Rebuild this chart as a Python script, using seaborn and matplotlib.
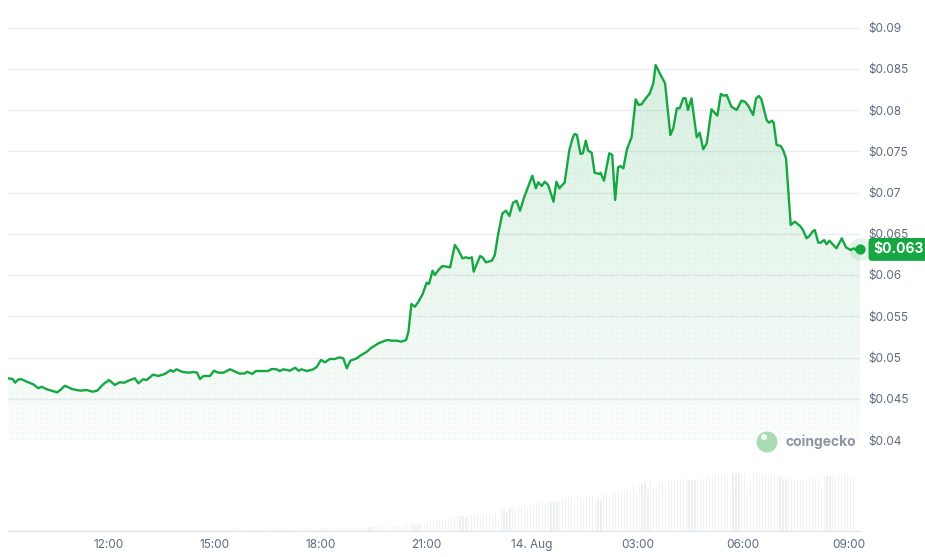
import numpy as np
import pandas as pd
import matplotlib
matplotlib.use("Agg")
import matplotlib.pyplot as plt
import matplotlib.dates as mdates
from matplotlib.patches import Circle
import seaborn as sns

# ---------------- data ----------------
times_13 = ["09:08", "09:16", "09:20", "09:26", "09:31", "09:40", "09:51", "10:00", "10:05", "10:14",
            "10:28", "10:32", "10:37", "10:45", "10:57", "11:11", "11:22", "11:32", "11:40", "11:50",
            "12:00", "12:10", "12:18", "12:26", "12:33", "12:44", "12:50", "12:58", "13:04", "13:15",
            "13:24", "13:35", "13:45", "13:49", "13:55", "14:04", "14:15", "14:24", "14:30", "14:35",
            "14:41", "14:52", "14:59", "15:06", "15:15", "15:26", "15:35", "15:43", "15:52", "15:55",
            "16:04", "16:10", "16:23", "16:31", "16:37", "16:45", "16:51", "16:57", "17:08", "17:17",
            "17:23", "17:28", "17:37", "17:48", "17:54", "18:01", "18:08", "18:16", "18:25", "18:32",
            "18:39", "18:45", "18:51", "19:02", "19:07", "19:19", "19:27", "19:39", "19:50", "19:55",
            "20:01", "20:10", "20:18", "20:26", "20:30", "20:35", "20:41", "20:47", "20:54", "21:01",
            "21:05", "21:11", "21:15", "21:21", "21:28", "21:35", "21:41", "21:49", "21:55", "22:02",
            "22:08", "22:13", "22:18", "22:21", "22:32", "22:36", "22:42", "22:52", "22:57", "23:03",
            "23:10", "23:16", "23:22", "23:28", "23:34", "23:40", "23:47"]
prices_13 = [0.04748, 0.04739, 0.04695, 0.04736, 0.04736, 0.04707, 0.04675, 0.04627, 0.04646, 0.04615,
             0.04585, 0.04578, 0.04606, 0.04658, 0.04618, 0.04598, 0.04606, 0.04585, 0.04598, 0.04675,
             0.04727, 0.04667, 0.04699, 0.04695, 0.04719, 0.04748, 0.04687, 0.04736, 0.04727, 0.04792,
             0.04776, 0.04800, 0.04848, 0.04828, 0.04857, 0.04828, 0.04816, 0.04824, 0.04816, 0.04739,
             0.04776, 0.04776, 0.04840, 0.04816, 0.04816, 0.04857, 0.04828, 0.04804, 0.04808, 0.04828,
             0.04800, 0.04836, 0.04836, 0.04836, 0.04861, 0.04857, 0.04836, 0.04857, 0.04840, 0.04876,
             0.04840, 0.04857, 0.04836, 0.04857, 0.04888, 0.04970, 0.04942, 0.04982, 0.04982, 0.05002,
             0.04990, 0.04869, 0.04961, 0.04990, 0.05018, 0.05070, 0.05119, 0.05172, 0.05204, 0.05212,
             0.05204, 0.05204, 0.05192, 0.05212, 0.05313, 0.05648, 0.05616, 0.05676, 0.05766, 0.05907,
             0.05891, 0.06052, 0.06000, 0.06061, 0.06109, 0.06101, 0.06093, 0.06364, 0.06303, 0.06202,
             0.06215, 0.06202, 0.06215, 0.06040, 0.06230, 0.06215, 0.06154, 0.06173, 0.06242, 0.06505,
             0.06748, 0.06779, 0.06715, 0.06876, 0.06901, 0.06779, 0.06942]

times_14 = ["00:01", "00:07", "00:11", "00:17", "00:22", "00:28", "00:37", "00:42", "00:47", "00:56",
            "01:04", "01:10", "01:13", "01:17", "01:23", "01:27", "01:32", "01:36", "01:42", "01:47",
            "01:55", "01:57", "02:03", "02:12", "02:17", "02:22", "02:27", "02:31", "02:36", "02:42",
            "02:50", "02:57", "03:02", "03:07", "03:13", "03:21", "03:27", "03:31", "03:38", "03:47",
            "03:56", "04:01", "04:07", "04:12", "04:18", "04:22", "04:26", "04:32", "04:41", "04:46",
            "04:52", "04:58", "05:06", "05:16", "05:22", "05:27", "05:32", "05:40", "05:49", "05:57",
            "06:03", "06:09", "06:17", "06:22", "06:27", "06:31", "06:40", "06:44", "06:49", "06:52",
            "06:57", "07:04", "07:08", "07:13", "07:21", "07:28", "07:37", "07:42", "07:48", "07:53",
            "07:58", "08:02", "08:08", "08:12", "08:18", "08:22", "08:27", "08:32", "08:39", "08:48",
            "08:55", "09:03", "09:09", "09:13", "09:19"]
prices_14 = [0.07204, 0.07051, 0.07124, 0.07079, 0.07131, 0.07091, 0.06888, 0.07131, 0.07051, 0.07121,
             0.07515, 0.07669, 0.07709, 0.07697, 0.07467, 0.07475, 0.07628, 0.07507, 0.07482, 0.07240,
             0.07224, 0.07240, 0.07143, 0.07475, 0.07455, 0.06909, 0.07305, 0.07321, 0.07293, 0.07523,
             0.07669, 0.08130, 0.08061, 0.08069, 0.08130, 0.08202, 0.08324, 0.08545, 0.08445, 0.08324,
             0.07697, 0.07778, 0.08021, 0.08021, 0.08142, 0.08142, 0.08000, 0.08142, 0.07669, 0.07725,
             0.07524, 0.07596, 0.08008, 0.07931, 0.08194, 0.08173, 0.08182, 0.08040, 0.08000, 0.08113,
             0.08101, 0.08048, 0.07939, 0.08142, 0.08170, 0.08130, 0.07879, 0.07846, 0.07870, 0.07846,
             0.07576, 0.07564, 0.07515, 0.07415, 0.06606, 0.06646, 0.06594, 0.06545, 0.06445, 0.06473,
             0.06525, 0.06545, 0.06392, 0.06392, 0.06424, 0.06372, 0.06416, 0.06376, 0.06324, 0.06445,
             0.06336, 0.06303, 0.06324, 0.06295, 0.06310]

# 5-minute trading volume (arbitrary units, unlabeled axis)
volume = [1.2, 1.0, 1.3, 0.6, 1.3, 1.5, 1.4, 1.6, 1.5, 1.6,
          1.7, 1.6, 1.8, 1.7, 1.6, 1.8, 1.7, 1.9, 1.8, 1.7,
          1.8, 1.9, 1.8, 1.7, 1.9, 2.0, 1.8, 1.9, 1.8, 1.9,
          2.0, 1.9, 1.8, 2.0, 2.1, 1.9, 2.0, 1.9, 2.0, 2.1,
          2.0, 2.1, 2.0, 1.9, 2.1, 2.0, 2.2, 2.1, 2.0, 2.1,
          2.2, 2.0, 2.1, 2.3, 2.2, 2.4, 2.2, 2.3, 2.5, 2.3,
          2.4, 2.3, 2.5, 2.4, 2.3, 2.6, 2.4, 2.5, 2.4, 2.6,
          2.5, 2.4, 2.6, 2.5, 2.7, 2.5, 2.6, 3.2, 2.6, 2.5,
          2.6, 2.7, 2.5, 2.6, 2.8, 2.6, 2.7, 2.9, 2.7, 2.6,
          2.8, 3.0, 2.7, 3.2, 2.9, 3.0, 2.8, 3.1,
          3.3, 3.1, 3.4, 3.2, 3.6, 3.3, 3.5, 3.0, 3.4, 3.6, 3.3, 3.7, 3.5, 3.4, 3.8, 3.6,
          4.0, 4.3, 4.1, 4.5, 4.2, 4.6, 4.4, 4.2,
          4.8, 5.0, 5.3, 4.9, 5.5, 5.2, 5.8, 5.4, 6.0, 5.6, 6.2, 5.9, 6.5, 6.8,
          7.2, 7.8, 7.4, 8.0, 8.5,
          9.5, 10.5, 11.0, 12.0, 12.5, 12.0,
          11.5, 11.0, 12.5,
          14.0, 15.0, 15.5, 16.0, 16.0, 15.5, 16.5,
          17.0, 17.5, 17.8, 17.7, 18.0, 17.8, 17.5,
          15.5, 18.5, 13.0,
          22.0, 22.0, 20.0,
          24.0, 24.5, 24.0, 24.5, 25.0,
          27.0, 24.5, 28.0, 25.5,
          29.0, 29.5, 30.0, 29.8, 30.5, 30.0, 31.0, 30.5, 31.5,
          33.0, 34.0, 35.0, 36.0,
          31.0, 36.0, 36.5, 32.0,
          36.5, 37.0, 36.5,
          32.0, 34.0, 32.0,
          38.7, 38.5, 36.0,
          40.0, 40.5, 41.0, 41.0, 41.5, 42.0,
          40.0, 46.7, 40.0,
          47.5, 47.7, 50.0, 43.0, 52.0, 45.0, 43.7,
          50.0, 49.5, 50.5,
          52.0, 52.5, 52.7, 53.0, 52.7, 52.5,
          53.7, 52.0, 52.0, 52.5, 52.0, 52.0,
          53.7, 56.0, 56.0, 56.0,
          58.0, 58.0, 58.0, 58.0, 55.0, 41.0,
          58.7, 59.0, 58.7, 59.0, 58.7,
          43.3, 51.0, 60.0, 60.0, 58.7, 59.0,
          56.5, 56.0, 56.3, 56.7, 56.0, 56.3,
          52.7, 53.0, 52.7, 52.5, 51.0, 52.7,
          52.0, 52.0, 52.3,
          53.5, 54.0, 54.0, 54.5, 42.0,
          56.0, 56.0, 56.5, 56.0, 56.0, 56.5, 56.0, 57.0,
          56.0, 56.5, 55.0]

y_ticks = [0.04, 0.045, 0.05, 0.055, 0.06, 0.065, 0.07, 0.075, 0.08, 0.085, 0.09]
y_tick_labels = ["$0.04", "$0.045", "$0.05", "$0.055", "$0.06", "$0.065", "$0.07",
                 "$0.075", "$0.08", "$0.085", "$0.09"]
x_tick_times = ["2024-08-13 12:00", "2024-08-13 15:00", "2024-08-13 18:00", "2024-08-13 21:00",
                "2024-08-14 00:00", "2024-08-14 03:00", "2024-08-14 06:00", "2024-08-14 09:00"]
x_tick_labels = ["12:00", "15:00", "18:00", "21:00", "14. Aug", "03:00", "06:00", "09:00"]

# ---------------- style ----------------
sns.set_theme(style="white")
plt.rcParams['font.family'] = ['Inter', 'DejaVu Sans']

GREEN = "#15a742"
GREEN_RGB = matplotlib.colors.to_rgb("#16a34a")
TEXT = "#5f6b7c"
GRID = "#eceef1"

t = pd.to_datetime(["2024-08-13 " + s for s in times_13] + ["2024-08-14 " + s for s in times_14])
df = pd.DataFrame({"time": t, "price": prices_13 + prices_14})

W, H = 925, 557
fig = plt.figure(figsize=(W / 100, H / 100), dpi=100)
fig.patch.set_facecolor("white")


def px_axes(x0, y0, x1, y1):
    return fig.add_axes([x0 / W, 1 - y1 / H, (x1 - x0) / W, (y1 - y0) / H])


ax = px_axes(8, 15, 860, 440)
axv = px_axes(8, 465, 860, 531)

xmin = pd.Timestamp("2024-08-13 09:08")
xmax = pd.Timestamp("2024-08-14 09:19")
ylo, yhi = 0.04, 0.04 + 425 / 8250

# gradient fill under the line
poly = ax.fill_between(df["time"], df["price"], ylo, facecolor="none", edgecolor="none")
clip = poly.get_paths()[0]
grad = np.zeros((256, 1, 4))
grad[..., :3] = GREEN_RGB
grad[:, 0, 3] = np.linspace(0.19, 0.02, 256)
im = ax.imshow(grad, extent=[mdates.date2num(xmin), mdates.date2num(xmax), ylo, yhi],
               aspect="auto", origin="upper", zorder=1, interpolation="bilinear")
im.set_clip_path(clip, transform=ax.transData)

# faint dot texture
gx, gy = np.meshgrid(np.arange(3, 852, 6) / 852, np.arange(2, 425, 5) / 425)
sc = ax.scatter(gx.ravel(), gy.ravel(), s=0.9, color=GREEN_RGB, alpha=0.10, linewidths=0,
                transform=ax.transAxes, zorder=1.5)
sc.set_clip_path(clip, transform=ax.transData)

sns.lineplot(data=df, x="time", y="price", ax=ax, color=GREEN, linewidth=1.7, zorder=3)

# end marker
last_t, last_p = df["time"].iloc[-1], df["price"].iloc[-1]
ax.scatter([last_t], [last_p], s=260, color=GREEN_RGB, alpha=0.12, linewidths=0, zorder=4, clip_on=False)
ax.scatter([last_t], [last_p], s=55, color=GREEN, linewidths=0, zorder=5, clip_on=False)
ax.annotate(f"${last_p:.3f}", xy=(1, last_p), xycoords=("axes fraction", "data"),
            xytext=(13, 0), textcoords="offset pixels", ha="left", va="center",
            color="white", fontsize=10, fontweight="bold", zorder=6, annotation_clip=False,
            bbox=dict(boxstyle="round,pad=0.32,rounding_size=0.25", fc=GREEN, ec="none"))

ax.set_xlim(xmin, xmax)
ax.set_ylim(ylo, yhi)
ax.set_yticks(y_ticks)
ax.set_yticklabels(y_tick_labels)
ax.yaxis.tick_right()
ax.tick_params(axis="y", length=0, pad=6, labelsize=8.5, labelcolor=TEXT)
ax.set_xticks([])
ax.set_xlabel("")
ax.set_ylabel("")
ax.grid(axis="y", color=GRID, linewidth=1)
ax.set_axisbelow(True)
for s in ax.spines.values():
    s.set_visible(False)

# volume bars
vol_times = pd.date_range("2024-08-13 09:12", periods=len(volume), freq="5min")
axv.bar(vol_times, volume, width=3.7 / 1440, color="#e7eaee", align="center")
axv.set_xlim(xmin, xmax)
axv.set_ylim(0, 66)
axv.set_yticks([])
axv.set_xticks(pd.to_datetime(x_tick_times))
axv.set_xticklabels(x_tick_labels)
axv.tick_params(axis="x", length=3, width=1, color="#e3e6ea", pad=3, labelsize=8.5, labelcolor=TEXT)
for k, s in axv.spines.items():
    s.set_visible(k == "bottom")
axv.spines["bottom"].set_color("#e3e6ea")
axv.spines["bottom"].set_linewidth(1)

# watermark
fig.patches.append(Circle((767 / 100, (H - 442) / 100), 0.105, transform=fig.dpi_scale_trans,
                          facecolor="#a9dcb2", edgecolor="none"))
fig.patches.append(Circle((764 / 100, (H - 437) / 100), 0.03, transform=fig.dpi_scale_trans,
                          facecolor="#f4fbf5", edgecolor="none"))
fig.text(785 / W, 1 - 442 / H, "coingecko", ha="left", va="center", fontsize=10,
         fontweight="bold", color="#8d95a3")

fig.savefig("out.png", dpi=100)
